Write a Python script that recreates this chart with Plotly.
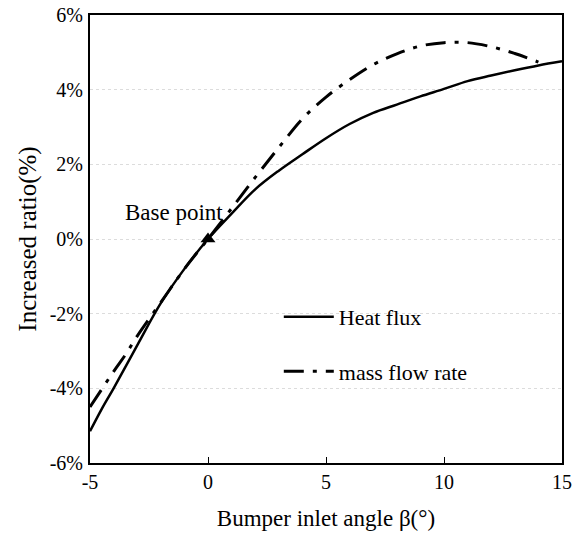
import plotly.graph_objects as go

angle_hf = [-5, -4.5, -4, -3, -2, -1, 0, 1, 2, 3, 4, 5, 6, 7, 8, 9, 10, 11, 12, 13, 14, 15]
heat_flux = [-5.15, -4.55, -4.0, -2.85, -1.72, -0.8, 0, 0.68, 1.33, 1.83, 2.27, 2.7, 3.08, 3.38, 3.6, 3.82, 4.02, 4.23, 4.38, 4.52, 4.65, 4.76]

angle_mf = [-5, -4, -3.5, -3, -2, -1, 0, 1, 2, 3, 4, 5, 6, 7, 8, 9, 10, 11, 12, 13, 14]
mass_flow = [-4.5, -3.55, -3.1, -2.6, -1.7, -0.8, 0, 0.82, 1.65, 2.45, 3.22, 3.8, 4.27, 4.67, 4.96, 5.17, 5.26, 5.26, 5.15, 4.97, 4.74]

base_x = [0]
base_y = [0]

x_ticks = [-5, 0, 5, 10, 15]
x_labels = ["-5", "0", "5", "10", "15"]
y_ticks = [-6, -4, -2, 0, 2, 4, 6]
y_labels = ["-6%", "-4%", "-2%", "0%", "2%", "4%", "6%"]

FONT = "Liberation Serif, Times New Roman, serif"

fig = go.Figure()
fig.add_trace(go.Scatter(
    x=angle_hf, y=heat_flux, mode="lines", name="Heat flux",
    line=dict(color="black", width=2.5, shape="spline"),
    legendgroup="a"))
fig.add_trace(go.Scatter(
    x=angle_mf, y=mass_flow, mode="lines", name="mass flow rate",
    line=dict(color="black", width=3, shape="spline", dash="20px,9px,4px,9px"),
    legendgroup="b"))
fig.add_trace(go.Scatter(
    x=base_x, y=base_y, mode="markers", showlegend=False,
    marker=dict(symbol="triangle-up", size=13, color="black")))

fig.add_annotation(x=-1.45, y=0.72, text="Base point", showarrow=False,
                   font=dict(family=FONT, size=23, color="black"))

fig.update_layout(
    width=573, height=537,
    margin=dict(l=90, r=11, t=15, b=74, autoexpand=False),
    paper_bgcolor="white", plot_bgcolor="white",
    font=dict(family=FONT, size=20, color="black"),
    showlegend=True,
    legend=dict(x=0.40, y=0.373, xanchor="left", yanchor="top",
                bgcolor="rgba(0,0,0,0)", font=dict(family=FONT, size=22),
                tracegroupgap=23, itemwidth=50),
    xaxis=dict(range=[-5, 15], tickvals=x_ticks, ticktext=x_labels, showline=True,
               linecolor="black", linewidth=2, mirror=True, ticks="inside", ticklen=6,
               tickcolor="black", showgrid=False, zeroline=False, automargin=False,
               tickfont=dict(size=20),
               title=dict(text="Bumper inlet angle β(°)", font=dict(size=23), standoff=18)),
    yaxis=dict(range=[-6, 6], tickvals=y_ticks, ticktext=y_labels, showline=True,
               linecolor="black", linewidth=2, mirror=True, ticks="", showgrid=True,
               gridcolor="#dcdcdc", griddash="dot", gridwidth=1, zeroline=False,
               automargin=False, tickfont=dict(size=20), ticklabelstandoff=1,
               title=dict(text="Increased ratio(%)", font=dict(size=25), standoff=6)),
)

fig.write_html("out.html", config={"displayModeBar": False},
               post_script="document.body.style.margin='0';")
